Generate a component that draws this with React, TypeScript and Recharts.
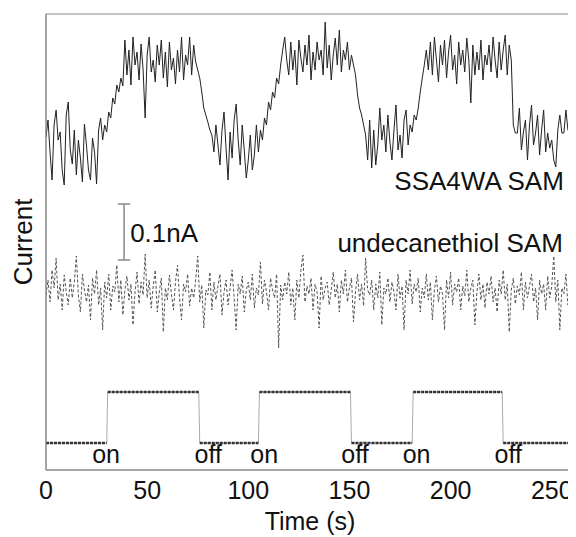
import React from 'react';
import { LineChart, Line, XAxis, YAxis, ReferenceLine, ReferenceDot, ReferenceArea, Label } from 'recharts';

// time axis (s)
const timeTicks = [0, 50, 100, 150, 200, 250];
const timeMax = 261;
const currentMax = 456;

// SSA4WA SAM current, one sample per second (arbitrary units, 56 units = 0.1 nA)
const ssa4wa = [
  333, 350, 318, 290, 345, 360, 330, 338, 300, 285, 355, 368, 320, 306, 340, 295, 330, 312, 288, 346,
  325, 300, 290, 332, 318, 286, 340, 352,
  330, 345, 338, 358, 352, 372, 366, 385, 378, 392, 384,
  430, 395, 420, 385, 433, 405, 418, 390, 426, 400, 352, 415, 433, 398, 410, 388, 425, 405, 430, 392,
  418, 383, 428, 400, 412, 386, 420, 398, 433, 390, 415, 405, 433, 395, 425, 408, 400,
  392, 378, 362, 355, 348, 340, 335, 318, 345, 325, 305, 340, 358, 322, 290, 338, 312, 350, 366, 330,
  305, 345, 320, 292, 310, 335, 300, 315, 345,
  318, 340, 330, 352, 345, 368, 360, 378, 372, 392, 386, 405, 420,
  433, 410, 395, 428, 400, 420, 385, 430, 412, 398, 425, 405, 435, 390, 418, 400, 428, 410, 420, 395,
  448, 402, 425, 390, 415, 432, 405, 440, 398, 420, 410, 428, 400, 415, 405,
  395, 375, 362, 355, 345,
  335, 310, 350, 302, 340, 305, 325, 362, 330, 345, 318, 355, 328, 310, 340, 365, 320, 335, 312, 350,
  360, 325, 345, 338, 355,
  350, 362, 378, 392, 405, 420,
  400, 428, 395, 433, 410, 388, 425, 405, 430, 392, 418, 435, 400, 415, 386, 428, 405, 420, 398, 432,
  410, 367, 425, 395, 418, 400, 430, 390, 415, 405, 425, 398, 433, 410, 392, 428, 400, 420, 435, 395,
  425, 410,
  345, 337, 337, 362, 320, 338, 350, 310, 345, 365, 325, 337, 355, 315, 340, 360, 318, 337, 322, 330,
  310, 303, 340, 355, 337, 337, 360, 340, 337, 350, 337,
];

// undecanethiol SAM current, one sample per second
const undecanethiol = [
  175, 190, 168, 200, 182, 212, 170, 186, 160, 195,
  178, 165, 192, 172, 188, 214, 175, 158, 196, 180,
  168, 185, 150, 192, 176, 200, 165, 182, 140, 188,
  172, 196, 160, 184, 178, 205, 168, 190, 155, 180,
  194, 170, 186, 145, 178, 198, 166, 188, 175, 216,
  172, 190, 162, 184, 200, 158, 178, 192, 138, 182,
  170, 195, 176, 160, 188, 205, 172, 150, 186, 178,
  196, 164, 182, 172, 190, 214, 168, 185, 142, 180,
  175, 198, 160, 188, 170, 184, 196, 155, 178, 190,
  165, 182, 200, 172, 140, 186, 176, 194, 158, 180,
  188, 170, 196, 162, 182, 175, 208, 166, 190, 178,
  160, 192, 180, 172, 196, 122, 185, 170, 188, 176,
  198, 165, 182, 150, 190, 172, 200, 215, 168, 184,
  176, 192, 160, 186, 178, 142, 194, 170, 182, 188,
  165, 180, 198, 172, 186, 158, 190, 176, 200, 168,
  182, 192, 148, 178, 196, 170, 186, 164, 212, 180,
  175, 190, 160, 186, 172, 198, 145, 182, 176, 192,
  168, 188, 178, 160, 196, 172, 184, 140, 190, 176,
  200, 166, 186, 178, 192, 158, 182, 172, 196, 170,
  188, 150, 180, 194, 168, 184, 176, 140, 190, 172,
  198, 165, 186, 178, 192, 160, 184, 174, 200, 168,
  182, 190, 145, 178, 196, 170, 186, 162, 188, 176,
  194, 168, 182, 158, 190, 176, 200, 170, 186, 138,
  180, 192, 166, 184, 175, 198, 160, 188, 172, 184,
  196, 168, 182, 150, 190, 176, 186, 160, 194, 172,
  184, 214, 168, 190, 140, 182, 176, 196, 165, 186,
  178, 190,
];

// light on/off step signal
const stepTimes = [0, 30, 30.5, 75.5, 76, 105, 105.5, 150.5, 151, 181, 181.5, 225.5, 226, 261];
const stepLevels = [27, 27, 78, 78, 27, 27, 78, 78, 27, 27, 78, 78, 27, 27];

const onTimes = [29.7, 107.9, 183.2];
const offTimes = [80.2, 152.7, 228.5];

const FONT = '"Liberation Sans", Arial, sans-serif';

const ssaData = ssa4wa.map((v, i) => ({ t: i, v }));
const undData = undecanethiol.map((v, i) => ({ t: i, v }));
const stepData = stepTimes.map((t, i) => ({ t, v: stepLevels[i] }));
const plateauData: { t: number; v: number | null }[] = [];
for (let i = 0; i + 1 < stepTimes.length; i += 2) {
  plateauData.push({ t: stepTimes[i], v: stepLevels[i] });
  plateauData.push({ t: stepTimes[i + 1], v: stepLevels[i + 1] });
  plateauData.push({ t: stepTimes[i + 1] + 0.01, v: null });
}

const Anno = (props: any) => {
  const { viewBox, text, anchor, size } = props;
  const x = viewBox.x + (viewBox.width || 0) / 2;
  const y = viewBox.y + (viewBox.height || 0) / 2;
  return (
    <text x={x} y={y} textAnchor={anchor} fontSize={size} fill="#111" fontFamily={FONT}>
      {text}
    </text>
  );
};

const YLabel = (props: any) => {
  const { viewBox } = props;
  const cx = viewBox.x + 15;
  const cy = viewBox.y + viewBox.height / 2;
  return (
    <text
      transform={`translate(${cx}, ${cy}) rotate(-90)`}
      textAnchor="middle"
      dominantBaseline="central"
      fontSize={26}
      fill="#111"
      fontFamily={FONT}
    >
      Current
    </text>
  );
};

export default function App() {
  const ax = { xAxisId: 'b', yAxisId: 'l' } as const;
  return (
    <div style={{ fontFamily: FONT, width: 568, height: 529 }}>
      <LineChart width={568} height={529} margin={{ top: 6, right: 2, left: 0, bottom: 0 }}>
        <XAxis
          xAxisId="b"
          type="number"
          dataKey="t"
          domain={[0, timeMax]}
          ticks={timeTicks}
          allowDataOverflow
          tickLine={false}
          tickSize={0}
          tickMargin={11}
          axisLine={{ stroke: '#888' }}
          tick={{ fill: '#111', fontSize: 25, fontFamily: FONT }}
          height={67}
        >
          <Label value="Time (s)" position="insideBottom" offset={7} fontSize={25} fill="#111" fontFamily={FONT} />
        </XAxis>
        <YAxis
          yAxisId="l"
          type="number"
          domain={[0, currentMax]}
          allowDataOverflow
          tick={false}
          tickLine={false}
          axisLine={{ stroke: '#888' }}
          width={38}
        >
          <Label content={<YLabel />} />
        </YAxis>

        <ReferenceArea {...ax} x1={0} x2={timeMax} y1={0} y2={currentMax} fill="none" stroke="#888" strokeWidth={1} ifOverflow="extendDomain" />

        <Line {...ax} data={ssaData} dataKey="v" type="linear" stroke="#222" strokeWidth={1} dot={false} isAnimationActive={false} />
        <Line {...ax} data={undData} dataKey="v" type="linear" stroke="#555" strokeWidth={1} strokeDasharray="3 2" dot={false} isAnimationActive={false} />
        <Line {...ax} data={stepData} dataKey="v" type="linear" stroke="#aaa" strokeWidth={1} dot={false} isAnimationActive={false} />
        <Line {...ax} data={plateauData} dataKey="v" type="linear" stroke="#333" strokeWidth={2.5} strokeDasharray="3 1" dot={false} connectNulls={false} isAnimationActive={false} />

        {/* 0.1 nA scale bar */}
        <ReferenceLine {...ax} segment={[{ x: 38.6, y: 210 }, { x: 38.6, y: 266 }]} stroke="#888" strokeWidth={1.5} />
        <ReferenceLine {...ax} segment={[{ x: 35.6, y: 266 }, { x: 41.6, y: 266 }]} stroke="#888" strokeWidth={1.5} />
        <ReferenceLine {...ax} segment={[{ x: 35.6, y: 210 }, { x: 41.6, y: 210 }]} stroke="#888" strokeWidth={1.5} />

        <ReferenceDot {...ax} x={41.6} y={228} r={0} fill="none" stroke="none" label={<Anno text="0.1nA" anchor="start" size={26} />} />
        <ReferenceDot {...ax} x={256} y={280} r={0} fill="none" stroke="none" label={<Anno text="SSA4WA SAM" anchor="end" size={26} />} />
        <ReferenceDot {...ax} x={255.5} y={218} r={0} fill="none" stroke="none" label={<Anno text="undecanethiol SAM" anchor="end" size={26} />} />

        {onTimes.map((t, i) => (
          <ReferenceDot key={'on' + i} {...ax} x={t} y={7} r={0} fill="none" stroke="none" label={<Anno text="on" anchor="middle" size={25} />} />
        ))}
        {offTimes.map((t, i) => (
          <ReferenceDot key={'off' + i} {...ax} x={t} y={7} r={0} fill="none" stroke="none" label={<Anno text="off" anchor="middle" size={25} />} />
        ))}
      </LineChart>
    </div>
  );
}
